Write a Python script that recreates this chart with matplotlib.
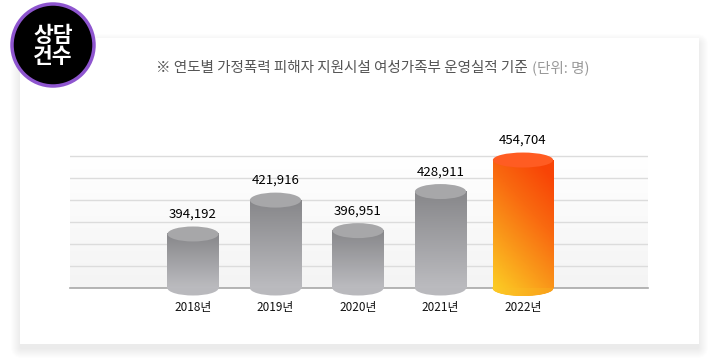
import numpy as np
import matplotlib
matplotlib.use('Agg')
from matplotlib import pyplot as plt
from matplotlib.patches import Ellipse, Circle, FancyBboxPatch, Rectangle
from matplotlib.colors import LinearSegmentedColormap

plt.rcParams['font.family'] = ['Noto Sans CJK KR', 'DejaVu Sans']

years = ['2018년', '2019년', '2020년', '2021년', '2022년']
counts = [394192, 421916, 396951, 428911, 454704]
title = '※ 연도별 가정폭력 피해자 지원시설 여성가족부 운영실적 기준'
unit = '(단위: 명)'
badge = '상담\n건수'

W, H = 720, 358
fig = plt.figure(figsize=(W / 100, H / 100), dpi=100)

# background layer in pixel coords
bg = fig.add_axes([0, 0, 1, 1])
bg.set_xlim(0, W)
bg.set_ylim(H, 0)
bg.axis('off')

# soft card shadow + card
for i in range(10):
    s = FancyBboxPatch((20 - i, 38 - i + 5), 679 + 2 * i, 306 + 2 * i,
                       boxstyle='round,pad=0,rounding_size=%d' % (i + 2),
                       fc='black', ec='none', alpha=0.009, zorder=1)
    bg.add_patch(s)
bg.add_patch(Rectangle((20, 38), 679, 306, fc='white', ec='none', zorder=2))

# badge
bg.add_patch(Circle((53, 45), 41, fc='black', ec='#8e55cf', lw=2.5, zorder=5))
bg.text(53, 46, badge, color='white', fontsize=15.5, fontweight='heavy',
        ha='center', va='center', linespacing=1.0, zorder=6)

# title
bg.text(528, 68, title, color='#555555', fontsize=10.5, fontweight='medium',
        ha='right', va='center', zorder=6)
bg.text(532, 68, unit, color='#999999', fontsize=10.5, fontweight='normal',
        ha='left', va='center', zorder=6)

# chart axes: baseline at y=288 px, top at 140 px, x from 70 to 648 px
base = 350000
step = 18000
k = 22 / step  # px per person
top_px, base_px = 140, 288
ymax = base + (base_px - top_px) / k
ax = fig.add_axes([70 / W, (H - base_px) / H, (648 - 70) / W, (base_px - top_px) / H])
ax.set_facecolor('none')
sp = 82.5
x0 = (70 - 193) / sp
x1 = (648 - 193) / sp
ax.set_xlim(x0, x1)
ax.set_ylim(base, ymax)

# plot area shading
shade = LinearSegmentedColormap.from_list('shade', ['#f4f4f4', '#ffffff'])
grad = np.linspace(0, 1, 100).reshape(-1, 1)
ax.imshow(grad, cmap=shade, extent=[x0, x1, base, base + 6 * step], origin='lower',
          aspect='auto', zorder=0)

ax.set_yticks([base + step * i for i in range(1, 7)])
ax.grid(axis='y', color='#dcdcdc', lw=1, zorder=1)
ax.tick_params(left=False, bottom=False, labelleft=False, labelbottom=False)
for s in ['top', 'left', 'right']:
    ax.spines[s].set_visible(False)
ax.spines['bottom'].set_color('#a8a8a8')
ax.spines['bottom'].set_linewidth(1.2)

gray_body = LinearSegmentedColormap.from_list('gb', ['#bbbbbf', '#87878a'])
hot = LinearSegmentedColormap.from_list('hot', ['#fccc24', '#fa9a1a', '#f96a10', '#f84406'])
hot_bottom = LinearSegmentedColormap.from_list('hb', ['#fcca26', '#f9a01a'])

eh = 15 / k
n = len(years)
for i in range(n):
    v = counts[i]
    last = i == n - 1
    w = 0.73 if last else 0.62
    left, right = i - w / 2, i + w / 2
    if last:
        yy, xx = np.mgrid[0:1:100j, 0:1:60j]
        t = np.clip(0.72 * yy + 0.38 * xx, 0, 1)
        ax.imshow(t, cmap=hot, extent=[left, right, base, v], origin='lower',
                  aspect='auto', zorder=3.1, vmin=0, vmax=1)
        # bottom ellipse with horizontal gradient
        u = np.linspace(-1, 1, 80)
        xs = i + u * w / 2
        hh = np.sqrt(np.clip(1 - u ** 2, 0, 1)) * eh / 2
        X = np.vstack([xs, xs])
        Y = np.vstack([base - hh, base + hh])
        C = np.vstack([u, u])
        ax.pcolormesh(X, Y, C, cmap=hot_bottom, shading='gouraud', zorder=3,
                      clip_on=False)
        ax.add_patch(Ellipse((i, v), w, eh, fc='#ff5c22', ec='none', zorder=3.2))
    else:
        ax.add_patch(Ellipse((i, base), w, eh, fc='#b9b9bd', ec='none', zorder=3))
        ax.imshow(np.linspace(0, 1, 100).reshape(-1, 1), cmap=gray_body,
                  extent=[left, right, base, v], origin='lower', aspect='auto', zorder=3.1)
        ax.add_patch(Ellipse((i, v), w, eh, fc='#a7a7a9', ec='none', zorder=3.2))
    ax.annotate(f'{v:,}', (i, v + eh / 2), xytext=(0, 4), textcoords='offset points',
                ha='center', va='bottom', fontsize=9.5, color='#000000', zorder=5)
    ax.annotate(years[i], (i, base), xytext=(0, -14), textcoords='offset points',
                ha='center', va='center', fontsize=8.5, color='#111111',
                annotation_clip=False, zorder=5)

ax.set_xlim(x0, x1)
ax.set_ylim(base, ymax)
for p in ax.patches + ax.images:
    p.set_clip_on(False)

fig.savefig('out.png', dpi=100)
